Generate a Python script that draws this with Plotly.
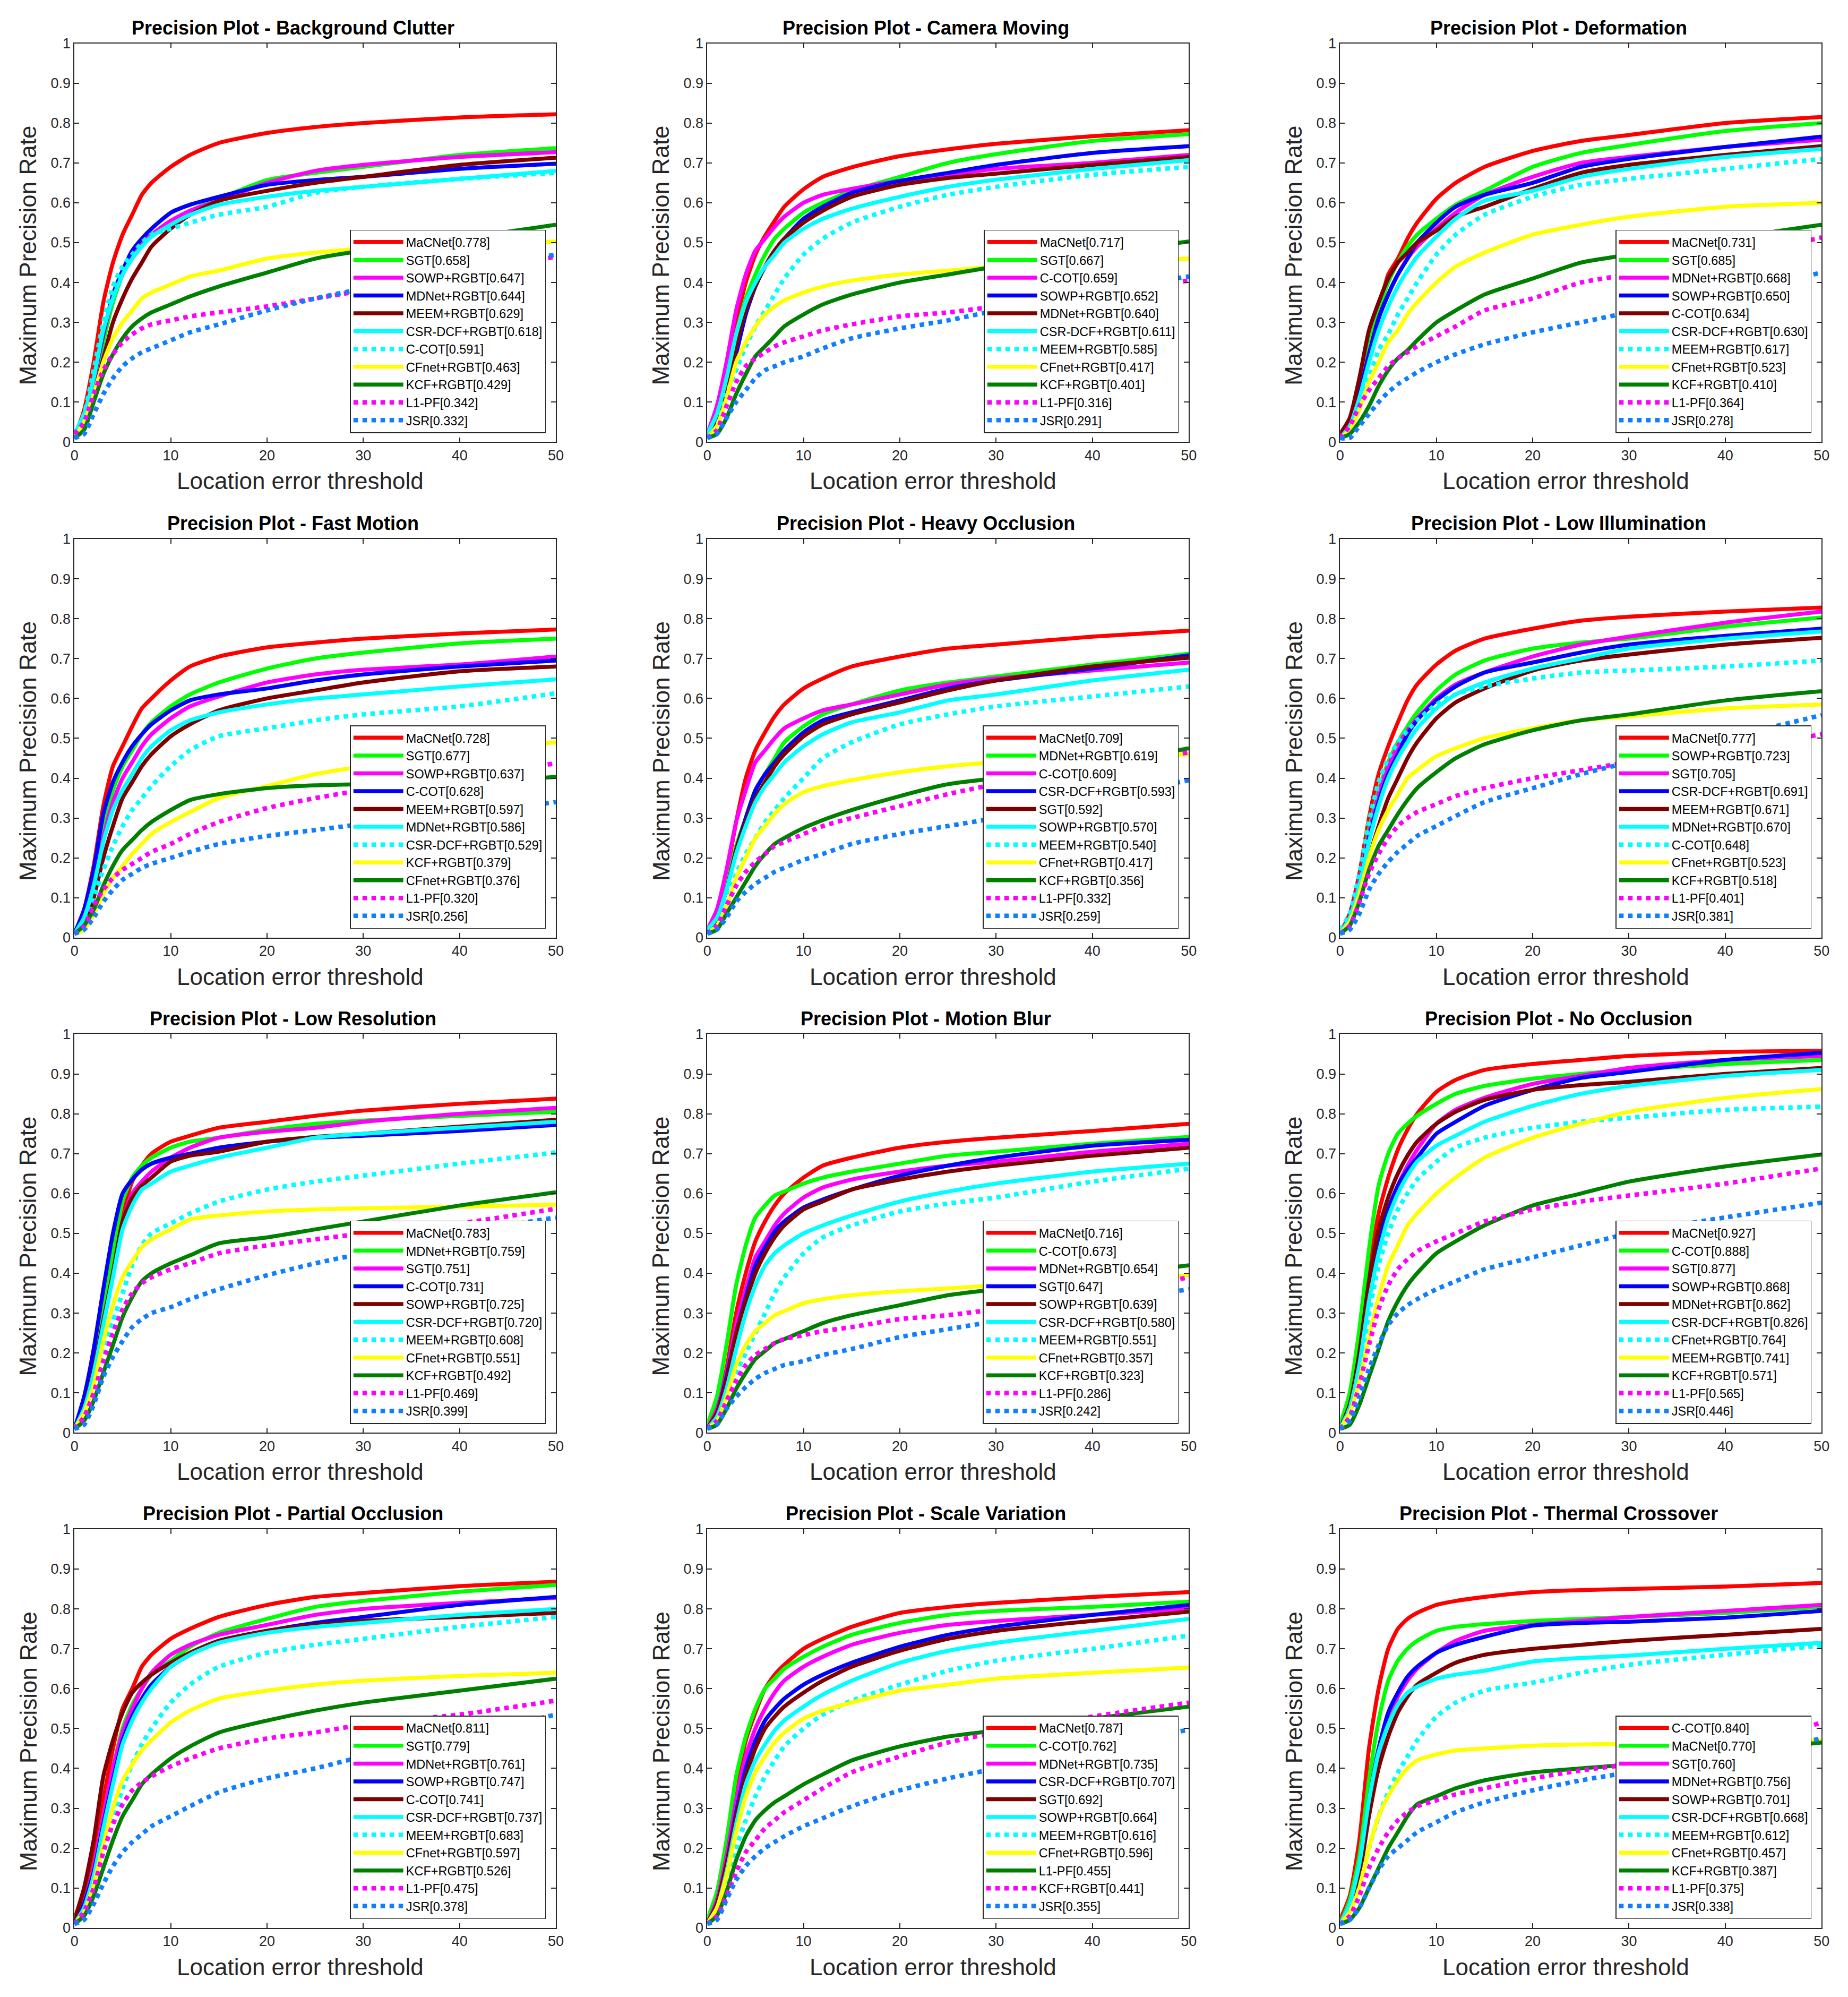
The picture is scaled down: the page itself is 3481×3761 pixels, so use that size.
import plotly.graph_objects as go

# window is 3481x3761; the page body keeps its default 8px margin, so the figure is 16px smaller
PAGE_W, PAGE_H = 3481, 3761
BODY_MARGIN = 8
W, H = PAGE_W - 2 * BODY_MARGIN, PAGE_H - 2 * BODY_MARGIN

# thresholds at which curve values were read
X = [0, 1, 2, 3, 4, 5, 6, 7, 8, 10, 12, 15, 20, 25, 30, 40, 50]

TITLES = ["Background Clutter", "Camera Moving", "Deformation", "Fast Motion",
          "Heavy Occlusion", "Low Illumination", "Low Resolution", "Motion Blur",
          "No Occlusion", "Partial Occlusion", "Scale Variation", "Thermal Crossover"]

# ---------- Background Clutter ----------
bc_names = ["MaCNet[0.778]", "SGT[0.658]", "SOWP+RGBT[0.647]", "MDNet+RGBT[0.644]", "MEEM+RGBT[0.629]",
            "CSR-DCF+RGBT[0.618]", "C-COT[0.591]", "CFnet+RGBT[0.463]", "KCF+RGBT[0.429]", "L1-PF[0.342]", "JSR[0.332]"]
bc_vals = [
    [0.01, 0.08, 0.20, 0.35, 0.45, 0.52, 0.57, 0.62, 0.65, 0.69, 0.72, 0.75, 0.775, 0.79, 0.80, 0.814, 0.822],
    [0.01, 0.05, 0.13, 0.25, 0.35, 0.42, 0.47, 0.50, 0.52, 0.55, 0.58, 0.61, 0.657, 0.675, 0.69, 0.72, 0.737],
    [0.02, 0.06, 0.15, 0.27, 0.36, 0.42, 0.47, 0.50, 0.52, 0.555, 0.58, 0.605, 0.65, 0.68, 0.695, 0.715, 0.727],
    [0.01, 0.06, 0.16, 0.27, 0.37, 0.43, 0.48, 0.51, 0.535, 0.575, 0.595, 0.615, 0.645, 0.657, 0.665, 0.685, 0.698],
    [0.01, 0.05, 0.12, 0.21, 0.30, 0.36, 0.41, 0.45, 0.49, 0.535, 0.57, 0.605, 0.63, 0.65, 0.665, 0.695, 0.713],
    [0.02, 0.07, 0.16, 0.28, 0.36, 0.42, 0.46, 0.49, 0.515, 0.545, 0.57, 0.595, 0.615, 0.63, 0.64, 0.66, 0.68],
    [0.02, 0.07, 0.18, 0.30, 0.39, 0.44, 0.47, 0.50, 0.52, 0.535, 0.55, 0.57, 0.59, 0.625, 0.64, 0.66, 0.675],
    [0.01, 0.05, 0.12, 0.20, 0.26, 0.30, 0.33, 0.36, 0.375, 0.395, 0.415, 0.43, 0.46, 0.475, 0.485, 0.495, 0.503],
    [0.01, 0.03, 0.10, 0.17, 0.22, 0.26, 0.29, 0.31, 0.325, 0.345, 0.365, 0.39, 0.425, 0.46, 0.48, 0.51, 0.545],
    [0.02, 0.05, 0.12, 0.18, 0.22, 0.25, 0.27, 0.285, 0.295, 0.305, 0.315, 0.325, 0.34, 0.36, 0.38, 0.42, 0.465],
    [0.01, 0.02, 0.07, 0.12, 0.16, 0.19, 0.21, 0.225, 0.235, 0.255, 0.275, 0.295, 0.33, 0.36, 0.385, 0.43, 0.47],
]

# ---------- Camera Moving ----------
cm_names = ["MaCNet[0.717]", "SGT[0.667]", "C-COT[0.659]", "SOWP+RGBT[0.652]", "MDNet+RGBT[0.640]",
            "CSR-DCF+RGBT[0.611]", "MEEM+RGBT[0.585]", "CFnet+RGBT[0.417]", "KCF+RGBT[0.401]", "L1-PF[0.316]", "JSR[0.291]"]
cm_vals = [
    [0.01, 0.07, 0.17, 0.30, 0.40, 0.47, 0.517, 0.555, 0.59, 0.634, 0.665, 0.689, 0.717, 0.734, 0.748, 0.767, 0.782],
    [0.01, 0.06, 0.15, 0.27, 0.36, 0.42, 0.47, 0.51, 0.535, 0.575, 0.60, 0.63, 0.665, 0.70, 0.722, 0.755, 0.772],
    [0.02, 0.09, 0.20, 0.33, 0.42, 0.48, 0.51, 0.54, 0.565, 0.60, 0.62, 0.635, 0.655, 0.67, 0.685, 0.70, 0.72],
    [0.01, 0.05, 0.12, 0.22, 0.32, 0.39, 0.44, 0.48, 0.51, 0.56, 0.59, 0.625, 0.655, 0.675, 0.695, 0.725, 0.742],
    [0.01, 0.05, 0.13, 0.24, 0.33, 0.39, 0.44, 0.48, 0.51, 0.55, 0.58, 0.615, 0.645, 0.662, 0.673, 0.695, 0.715],
    [0.02, 0.07, 0.16, 0.27, 0.35, 0.40, 0.44, 0.47, 0.50, 0.535, 0.56, 0.585, 0.615, 0.64, 0.658, 0.685, 0.707],
    [0.01, 0.04, 0.12, 0.18, 0.24, 0.29, 0.33, 0.37, 0.41, 0.47, 0.51, 0.55, 0.59, 0.62, 0.64, 0.67, 0.69],
    [0.01, 0.04, 0.11, 0.20, 0.25, 0.29, 0.32, 0.34, 0.355, 0.375, 0.39, 0.405, 0.42, 0.43, 0.44, 0.45, 0.46],
    [0.01, 0.02, 0.06, 0.12, 0.17, 0.215, 0.24, 0.265, 0.29, 0.32, 0.345, 0.37, 0.40, 0.42, 0.44, 0.47, 0.503],
    [0.01, 0.03, 0.09, 0.15, 0.19, 0.21, 0.225, 0.24, 0.25, 0.265, 0.28, 0.295, 0.315, 0.325, 0.34, 0.37, 0.405],
    [0.01, 0.02, 0.06, 0.10, 0.13, 0.16, 0.18, 0.19, 0.20, 0.215, 0.235, 0.26, 0.285, 0.305, 0.33, 0.38, 0.415],
]

# ---------- Deformation ----------
df_names = ["MaCNet[0.731]", "SGT[0.685]", "MDNet+RGBT[0.668]", "SOWP+RGBT[0.650]", "C-COT[0.634]",
            "CSR-DCF+RGBT[0.630]", "MEEM+RGBT[0.617]", "CFnet+RGBT[0.523]", "KCF+RGBT[0.410]", "L1-PF[0.364]", "JSR[0.278]"]
df_vals = [
    [0.01, 0.05, 0.13, 0.24, 0.33, 0.42, 0.46, 0.51, 0.55, 0.61, 0.65, 0.69, 0.73, 0.755, 0.77, 0.80, 0.815],
    [0.01, 0.05, 0.13, 0.24, 0.33, 0.40, 0.45, 0.49, 0.52, 0.56, 0.595, 0.63, 0.69, 0.725, 0.745, 0.78, 0.80],
    [0.01, 0.05, 0.12, 0.22, 0.31, 0.37, 0.42, 0.46, 0.49, 0.535, 0.575, 0.62, 0.665, 0.70, 0.715, 0.74, 0.758],
    [0.01, 0.05, 0.12, 0.22, 0.31, 0.37, 0.42, 0.46, 0.50, 0.55, 0.59, 0.62, 0.65, 0.69, 0.71, 0.74, 0.766],
    [0.02, 0.06, 0.16, 0.28, 0.35, 0.41, 0.45, 0.475, 0.50, 0.53, 0.565, 0.59, 0.635, 0.675, 0.695, 0.72, 0.742],
    [0.01, 0.04, 0.11, 0.20, 0.28, 0.34, 0.39, 0.43, 0.465, 0.515, 0.56, 0.605, 0.63, 0.665, 0.685, 0.715, 0.735],
    [0.01, 0.03, 0.09, 0.16, 0.23, 0.27, 0.32, 0.36, 0.40, 0.47, 0.52, 0.57, 0.615, 0.645, 0.66, 0.685, 0.71],
    [0.01, 0.03, 0.08, 0.15, 0.20, 0.25, 0.28, 0.32, 0.35, 0.40, 0.44, 0.475, 0.52, 0.545, 0.565, 0.59, 0.60],
    [0.01, 0.02, 0.05, 0.09, 0.14, 0.18, 0.21, 0.23, 0.255, 0.30, 0.33, 0.37, 0.41, 0.45, 0.47, 0.51, 0.545],
    [0.01, 0.04, 0.09, 0.13, 0.16, 0.19, 0.21, 0.225, 0.24, 0.265, 0.29, 0.33, 0.36, 0.40, 0.42, 0.46, 0.513],
    [0.01, 0.01, 0.04, 0.07, 0.10, 0.125, 0.145, 0.16, 0.175, 0.20, 0.22, 0.245, 0.275, 0.30, 0.325, 0.37, 0.425],
]

# ---------- Fast Motion ----------
fm_names = ["MaCNet[0.728]", "SGT[0.677]", "SOWP+RGBT[0.637]", "C-COT[0.628]", "MEEM+RGBT[0.597]",
            "MDNet+RGBT[0.586]", "CSR-DCF+RGBT[0.529]", "KCF+RGBT[0.379]", "CFnet+RGBT[0.376]", "L1-PF[0.320]", "JSR[0.256]"]
fm_vals = [
    [0.01, 0.07, 0.18, 0.33, 0.43, 0.48, 0.53, 0.575, 0.60, 0.645, 0.68, 0.705, 0.728, 0.74, 0.75, 0.763, 0.773],
    [0.01, 0.05, 0.15, 0.28, 0.37, 0.43, 0.47, 0.51, 0.54, 0.58, 0.61, 0.64, 0.675, 0.70, 0.715, 0.738, 0.75],
    [0.01, 0.05, 0.14, 0.25, 0.34, 0.40, 0.44, 0.48, 0.51, 0.55, 0.58, 0.605, 0.64, 0.66, 0.672, 0.685, 0.705],
    [0.01, 0.07, 0.17, 0.31, 0.39, 0.44, 0.48, 0.51, 0.535, 0.57, 0.595, 0.61, 0.625, 0.645, 0.66, 0.68, 0.695],
    [0.01, 0.03, 0.10, 0.20, 0.28, 0.35, 0.39, 0.43, 0.46, 0.505, 0.535, 0.57, 0.60, 0.62, 0.64, 0.668, 0.68],
    [0.01, 0.05, 0.13, 0.24, 0.32, 0.37, 0.41, 0.45, 0.48, 0.52, 0.545, 0.565, 0.585, 0.60, 0.61, 0.63, 0.648],
    [0.01, 0.04, 0.10, 0.17, 0.23, 0.28, 0.32, 0.35, 0.38, 0.43, 0.47, 0.505, 0.525, 0.545, 0.56, 0.58, 0.613],
    [0.01, 0.02, 0.06, 0.11, 0.15, 0.18, 0.21, 0.235, 0.26, 0.29, 0.315, 0.35, 0.38, 0.41, 0.43, 0.465, 0.49],
    [0.01, 0.03, 0.07, 0.13, 0.18, 0.22, 0.245, 0.27, 0.29, 0.32, 0.345, 0.36, 0.375, 0.382, 0.385, 0.39, 0.403],
    [0.01, 0.03, 0.08, 0.12, 0.15, 0.17, 0.185, 0.20, 0.215, 0.235, 0.26, 0.29, 0.325, 0.35, 0.37, 0.405, 0.437],
    [0.01, 0.02, 0.05, 0.09, 0.12, 0.145, 0.16, 0.175, 0.185, 0.20, 0.215, 0.235, 0.255, 0.27, 0.285, 0.31, 0.34],
]

# ---------- Heavy Occlusion ----------
ho_names = ["MaCNet[0.709]", "MDNet+RGBT[0.619]", "C-COT[0.609]", "CSR-DCF+RGBT[0.593]", "SGT[0.592]",
            "SOWP+RGBT[0.570]", "MEEM+RGBT[0.540]", "CFnet+RGBT[0.417]", "KCF+RGBT[0.356]", "L1-PF[0.332]", "JSR[0.259]"]
ho_vals = [
    [0.01, 0.06, 0.16, 0.29, 0.40, 0.47, 0.515, 0.555, 0.585, 0.625, 0.65, 0.68, 0.705, 0.725, 0.735, 0.755, 0.77],
    [0.01, 0.05, 0.13, 0.23, 0.30, 0.37, 0.41, 0.45, 0.49, 0.53, 0.56, 0.585, 0.62, 0.64, 0.655, 0.685, 0.712],
    [0.02, 0.07, 0.17, 0.29, 0.37, 0.44, 0.47, 0.50, 0.525, 0.55, 0.57, 0.585, 0.61, 0.635, 0.65, 0.67, 0.69],
    [0.01, 0.05, 0.12, 0.22, 0.30, 0.37, 0.41, 0.44, 0.47, 0.515, 0.545, 0.565, 0.595, 0.625, 0.645, 0.675, 0.708],
    [0.01, 0.05, 0.12, 0.22, 0.29, 0.35, 0.39, 0.43, 0.46, 0.505, 0.535, 0.56, 0.59, 0.62, 0.645, 0.68, 0.702],
    [0.02, 0.05, 0.12, 0.21, 0.28, 0.34, 0.38, 0.41, 0.44, 0.48, 0.51, 0.54, 0.565, 0.595, 0.61, 0.645, 0.672],
    [0.01, 0.03, 0.09, 0.16, 0.21, 0.25, 0.29, 0.32, 0.35, 0.40, 0.45, 0.49, 0.535, 0.56, 0.58, 0.605, 0.63],
    [0.01, 0.03, 0.08, 0.15, 0.20, 0.25, 0.28, 0.31, 0.335, 0.365, 0.38, 0.395, 0.415, 0.43, 0.44, 0.45, 0.46],
    [0.01, 0.02, 0.06, 0.10, 0.14, 0.18, 0.21, 0.235, 0.25, 0.275, 0.295, 0.32, 0.355, 0.385, 0.40, 0.43, 0.475],
    [0.01, 0.03, 0.08, 0.13, 0.165, 0.19, 0.21, 0.23, 0.24, 0.26, 0.28, 0.30, 0.33, 0.36, 0.385, 0.42, 0.465],
    [0.01, 0.02, 0.05, 0.09, 0.115, 0.135, 0.15, 0.165, 0.175, 0.195, 0.21, 0.235, 0.26, 0.28, 0.30, 0.345, 0.395],
]

# ---------- Low Illumination ----------
li_names = ["MaCNet[0.777]", "SOWP+RGBT[0.723]", "SGT[0.705]", "CSR-DCF+RGBT[0.691]", "MEEM+RGBT[0.671]",
            "MDNet+RGBT[0.670]", "C-COT[0.648]", "CFnet+RGBT[0.523]", "KCF+RGBT[0.518]", "L1-PF[0.401]", "JSR[0.381]"]
li_vals = [
    [0.01, 0.06, 0.16, 0.30, 0.41, 0.48, 0.54, 0.595, 0.635, 0.685, 0.72, 0.75, 0.775, 0.795, 0.805, 0.818, 0.828],
    [0.01, 0.05, 0.14, 0.27, 0.37, 0.44, 0.49, 0.53, 0.565, 0.62, 0.66, 0.695, 0.725, 0.74, 0.75, 0.78, 0.803],
    [0.01, 0.05, 0.14, 0.26, 0.36, 0.43, 0.48, 0.52, 0.55, 0.60, 0.635, 0.665, 0.705, 0.735, 0.755, 0.79, 0.818],
    [0.01, 0.05, 0.13, 0.25, 0.34, 0.41, 0.46, 0.51, 0.545, 0.595, 0.63, 0.665, 0.69, 0.715, 0.735, 0.757, 0.775],
    [0.01, 0.04, 0.11, 0.20, 0.28, 0.35, 0.40, 0.45, 0.49, 0.55, 0.59, 0.625, 0.67, 0.695, 0.71, 0.735, 0.752],
    [0.01, 0.05, 0.13, 0.24, 0.33, 0.40, 0.45, 0.49, 0.525, 0.575, 0.61, 0.64, 0.675, 0.70, 0.725, 0.75, 0.768],
    [0.02, 0.06, 0.16, 0.29, 0.39, 0.45, 0.49, 0.52, 0.545, 0.585, 0.61, 0.63, 0.65, 0.665, 0.67, 0.68, 0.695],
    [0.01, 0.04, 0.11, 0.20, 0.27, 0.32, 0.36, 0.40, 0.42, 0.455, 0.475, 0.50, 0.525, 0.545, 0.555, 0.575, 0.585],
    [0.01, 0.03, 0.09, 0.17, 0.23, 0.27, 0.31, 0.345, 0.375, 0.415, 0.45, 0.485, 0.52, 0.545, 0.56, 0.595, 0.618],
    [0.01, 0.03, 0.09, 0.16, 0.21, 0.25, 0.28, 0.30, 0.315, 0.335, 0.355, 0.375, 0.40, 0.42, 0.44, 0.47, 0.51],
    [0.01, 0.02, 0.06, 0.12, 0.16, 0.19, 0.215, 0.235, 0.255, 0.28, 0.305, 0.34, 0.375, 0.41, 0.44, 0.50, 0.558],
]

# ---------- Low Resolution ----------
lr_names = ["MaCNet[0.783]", "MDNet+RGBT[0.759]", "SGT[0.751]", "C-COT[0.731]", "SOWP+RGBT[0.725]",
            "CSR-DCF+RGBT[0.720]", "MEEM+RGBT[0.608]", "CFnet+RGBT[0.551]", "KCF+RGBT[0.492]", "L1-PF[0.469]", "JSR[0.399]"]
lr_vals = [
    [0.01, 0.07, 0.17, 0.30, 0.42, 0.55, 0.63, 0.67, 0.70, 0.73, 0.745, 0.765, 0.78, 0.795, 0.808, 0.825, 0.838],
    [0.01, 0.07, 0.17, 0.30, 0.45, 0.58, 0.64, 0.67, 0.69, 0.715, 0.73, 0.74, 0.76, 0.775, 0.783, 0.795, 0.805],
    [0.01, 0.06, 0.16, 0.28, 0.40, 0.53, 0.60, 0.63, 0.655, 0.69, 0.715, 0.74, 0.755, 0.765, 0.78, 0.80, 0.815],
    [0.01, 0.09, 0.21, 0.36, 0.50, 0.60, 0.635, 0.66, 0.675, 0.69, 0.70, 0.715, 0.73, 0.74, 0.745, 0.757, 0.772],
    [0.01, 0.06, 0.16, 0.28, 0.40, 0.53, 0.59, 0.62, 0.64, 0.68, 0.695, 0.705, 0.73, 0.742, 0.75, 0.768, 0.785],
    [0.01, 0.06, 0.15, 0.27, 0.39, 0.51, 0.57, 0.61, 0.625, 0.655, 0.67, 0.69, 0.715, 0.74, 0.75, 0.765, 0.78],
    [0.01, 0.04, 0.11, 0.20, 0.28, 0.35, 0.42, 0.47, 0.50, 0.525, 0.55, 0.58, 0.61, 0.63, 0.645, 0.675, 0.703],
    [0.01, 0.05, 0.12, 0.23, 0.32, 0.39, 0.43, 0.465, 0.485, 0.51, 0.535, 0.545, 0.555, 0.56, 0.563, 0.567, 0.572],
    [0.01, 0.03, 0.08, 0.15, 0.22, 0.29, 0.34, 0.38, 0.40, 0.425, 0.445, 0.475, 0.49, 0.51, 0.53, 0.57, 0.603],
    [0.01, 0.04, 0.10, 0.18, 0.25, 0.31, 0.35, 0.375, 0.39, 0.41, 0.425, 0.45, 0.47, 0.485, 0.50, 0.525, 0.562],
    [0.01, 0.02, 0.07, 0.14, 0.19, 0.23, 0.265, 0.285, 0.30, 0.315, 0.335, 0.36, 0.395, 0.425, 0.45, 0.50, 0.54],
]

# ---------- Motion Blur ----------
mb_names = ["MaCNet[0.716]", "C-COT[0.673]", "MDNet+RGBT[0.654]", "SGT[0.647]", "SOWP+RGBT[0.639]",
            "CSR-DCF+RGBT[0.580]", "MEEM+RGBT[0.551]", "CFnet+RGBT[0.357]", "KCF+RGBT[0.323]", "L1-PF[0.286]", "JSR[0.242]"]
mb_vals = [
    [0.01, 0.06, 0.16, 0.30, 0.40, 0.48, 0.53, 0.57, 0.60, 0.64, 0.67, 0.69, 0.715, 0.73, 0.74, 0.757, 0.775],
    [0.02, 0.09, 0.22, 0.37, 0.47, 0.54, 0.57, 0.595, 0.605, 0.625, 0.64, 0.655, 0.675, 0.695, 0.705, 0.725, 0.742],
    [0.01, 0.06, 0.15, 0.27, 0.36, 0.44, 0.48, 0.52, 0.55, 0.59, 0.615, 0.635, 0.655, 0.67, 0.68, 0.705, 0.725],
    [0.01, 0.05, 0.14, 0.25, 0.34, 0.42, 0.465, 0.505, 0.53, 0.565, 0.585, 0.61, 0.645, 0.67, 0.69, 0.72, 0.735],
    [0.01, 0.05, 0.13, 0.25, 0.33, 0.40, 0.45, 0.49, 0.52, 0.56, 0.58, 0.61, 0.635, 0.655, 0.67, 0.695, 0.715],
    [0.01, 0.04, 0.11, 0.21, 0.30, 0.37, 0.42, 0.45, 0.47, 0.50, 0.52, 0.545, 0.58, 0.605, 0.625, 0.655, 0.675],
    [0.01, 0.03, 0.08, 0.15, 0.20, 0.25, 0.30, 0.35, 0.39, 0.45, 0.49, 0.52, 0.555, 0.575, 0.59, 0.63, 0.662],
    [0.01, 0.03, 0.09, 0.17, 0.22, 0.255, 0.275, 0.295, 0.305, 0.325, 0.335, 0.345, 0.355, 0.362, 0.37, 0.38, 0.395],
    [0.01, 0.02, 0.06, 0.11, 0.15, 0.185, 0.205, 0.225, 0.235, 0.255, 0.275, 0.295, 0.32, 0.345, 0.36, 0.39, 0.42],
    [0.01, 0.03, 0.08, 0.13, 0.17, 0.195, 0.21, 0.225, 0.235, 0.245, 0.255, 0.265, 0.285, 0.295, 0.31, 0.345, 0.39],
    [0.01, 0.02, 0.06, 0.09, 0.115, 0.135, 0.15, 0.16, 0.17, 0.18, 0.195, 0.21, 0.24, 0.26, 0.28, 0.32, 0.36],
]

# ---------- No Occlusion ----------
no_names = ["MaCNet[0.927]", "C-COT[0.888]", "SGT[0.877]", "SOWP+RGBT[0.868]", "MDNet+RGBT[0.862]",
            "CSR-DCF+RGBT[0.826]", "CFnet+RGBT[0.764]", "MEEM+RGBT[0.741]", "KCF+RGBT[0.571]", "L1-PF[0.565]", "JSR[0.446]"]
no_vals = [
    [0.01, 0.08, 0.20, 0.40, 0.55, 0.64, 0.71, 0.76, 0.80, 0.855, 0.885, 0.91, 0.925, 0.935, 0.945, 0.955, 0.958],
    [0.02, 0.10, 0.26, 0.46, 0.62, 0.70, 0.75, 0.775, 0.795, 0.825, 0.85, 0.87, 0.888, 0.90, 0.91, 0.925, 0.935],
    [0.01, 0.07, 0.19, 0.35, 0.48, 0.56, 0.62, 0.67, 0.71, 0.775, 0.81, 0.84, 0.875, 0.895, 0.915, 0.935, 0.945],
    [0.01, 0.07, 0.19, 0.35, 0.48, 0.56, 0.62, 0.66, 0.69, 0.75, 0.78, 0.82, 0.86, 0.89, 0.905, 0.935, 0.953],
    [0.01, 0.07, 0.20, 0.38, 0.51, 0.59, 0.65, 0.695, 0.73, 0.775, 0.805, 0.835, 0.86, 0.872, 0.88, 0.90, 0.915],
    [0.01, 0.06, 0.17, 0.33, 0.45, 0.54, 0.60, 0.645, 0.68, 0.72, 0.745, 0.78, 0.82, 0.85, 0.87, 0.895, 0.91],
    [0.01, 0.06, 0.16, 0.30, 0.42, 0.50, 0.56, 0.60, 0.635, 0.68, 0.715, 0.74, 0.765, 0.78, 0.79, 0.81, 0.818],
    [0.01, 0.05, 0.13, 0.24, 0.34, 0.42, 0.47, 0.52, 0.55, 0.60, 0.64, 0.69, 0.74, 0.775, 0.805, 0.84, 0.862],
    [0.01, 0.02, 0.07, 0.14, 0.21, 0.28, 0.33, 0.37, 0.40, 0.45, 0.48, 0.52, 0.57, 0.60, 0.63, 0.668, 0.698],
    [0.01, 0.04, 0.12, 0.22, 0.31, 0.37, 0.41, 0.435, 0.455, 0.48, 0.50, 0.53, 0.56, 0.58, 0.595, 0.625, 0.663],
    [0.01, 0.03, 0.09, 0.16, 0.22, 0.27, 0.30, 0.32, 0.335, 0.36, 0.38, 0.41, 0.44, 0.47, 0.50, 0.54, 0.577],
]

# ---------- Partial Occlusion ----------
po_names = ["MaCNet[0.811]", "SGT[0.779]", "MDNet+RGBT[0.761]", "SOWP+RGBT[0.747]", "C-COT[0.741]",
            "CSR-DCF+RGBT[0.737]", "MEEM+RGBT[0.683]", "CFnet+RGBT[0.597]", "KCF+RGBT[0.526]", "L1-PF[0.475]", "JSR[0.378]"]
po_vals = [
    [0.01, 0.08, 0.18, 0.32, 0.45, 0.55, 0.60, 0.655, 0.685, 0.725, 0.75, 0.78, 0.81, 0.83, 0.84, 0.857, 0.868],
    [0.01, 0.06, 0.15, 0.28, 0.40, 0.50, 0.56, 0.60, 0.635, 0.67, 0.705, 0.74, 0.775, 0.805, 0.82, 0.843, 0.86],
    [0.01, 0.06, 0.15, 0.28, 0.40, 0.49, 0.55, 0.60, 0.64, 0.685, 0.71, 0.735, 0.76, 0.785, 0.80, 0.815, 0.828],
    [0.01, 0.06, 0.14, 0.26, 0.37, 0.47, 0.53, 0.575, 0.61, 0.655, 0.685, 0.72, 0.745, 0.765, 0.78, 0.81, 0.83],
    [0.02, 0.10, 0.22, 0.38, 0.47, 0.54, 0.59, 0.615, 0.635, 0.665, 0.69, 0.72, 0.745, 0.76, 0.77, 0.78, 0.79],
    [0.01, 0.05, 0.13, 0.25, 0.36, 0.46, 0.52, 0.565, 0.60, 0.655, 0.685, 0.715, 0.74, 0.755, 0.765, 0.785, 0.80],
    [0.01, 0.04, 0.10, 0.19, 0.27, 0.35, 0.41, 0.46, 0.50, 0.565, 0.61, 0.655, 0.69, 0.71, 0.725, 0.755, 0.78],
    [0.01, 0.04, 0.11, 0.21, 0.30, 0.37, 0.41, 0.445, 0.47, 0.515, 0.545, 0.575, 0.595, 0.61, 0.62, 0.632, 0.64],
    [0.01, 0.03, 0.08, 0.15, 0.22, 0.28, 0.32, 0.36, 0.385, 0.425, 0.455, 0.49, 0.52, 0.545, 0.565, 0.595, 0.625],
    [0.01, 0.04, 0.10, 0.19, 0.26, 0.31, 0.345, 0.365, 0.38, 0.405, 0.425, 0.45, 0.475, 0.49, 0.51, 0.535, 0.57],
    [0.01, 0.02, 0.06, 0.11, 0.155, 0.19, 0.215, 0.235, 0.255, 0.28, 0.305, 0.34, 0.375, 0.40, 0.43, 0.48, 0.535],
]

# ---------- Scale Variation ----------
sv_names = ["MaCNet[0.787]", "C-COT[0.762]", "MDNet+RGBT[0.735]", "CSR-DCF+RGBT[0.707]", "SGT[0.692]",
            "SOWP+RGBT[0.664]", "MEEM+RGBT[0.616]", "CFnet+RGBT[0.596]", "L1-PF[0.455]", "KCF+RGBT[0.441]", "JSR[0.355]"]
sv_vals = [
    [0.01, 0.08, 0.20, 0.35, 0.47, 0.54, 0.60, 0.635, 0.66, 0.70, 0.725, 0.755, 0.79, 0.805, 0.815, 0.83, 0.842],
    [0.02, 0.09, 0.22, 0.38, 0.48, 0.55, 0.60, 0.625, 0.65, 0.68, 0.705, 0.735, 0.765, 0.785, 0.795, 0.805, 0.818],
    [0.01, 0.07, 0.18, 0.32, 0.43, 0.50, 0.55, 0.59, 0.62, 0.655, 0.68, 0.71, 0.74, 0.76, 0.77, 0.785, 0.80],
    [0.01, 0.06, 0.16, 0.29, 0.40, 0.47, 0.52, 0.55, 0.575, 0.61, 0.635, 0.665, 0.705, 0.735, 0.755, 0.785, 0.81],
    [0.01, 0.06, 0.16, 0.28, 0.38, 0.45, 0.50, 0.53, 0.555, 0.59, 0.62, 0.655, 0.695, 0.725, 0.745, 0.77, 0.793],
    [0.01, 0.05, 0.14, 0.26, 0.36, 0.42, 0.46, 0.495, 0.52, 0.555, 0.585, 0.62, 0.665, 0.695, 0.715, 0.745, 0.775],
    [0.01, 0.04, 0.11, 0.20, 0.27, 0.33, 0.38, 0.42, 0.455, 0.50, 0.535, 0.57, 0.61, 0.645, 0.67, 0.70, 0.733],
    [0.01, 0.05, 0.13, 0.24, 0.33, 0.39, 0.43, 0.465, 0.49, 0.525, 0.545, 0.565, 0.595, 0.61, 0.625, 0.64, 0.653],
    [0.01, 0.03, 0.09, 0.17, 0.23, 0.27, 0.295, 0.315, 0.33, 0.36, 0.385, 0.42, 0.455, 0.48, 0.495, 0.525, 0.555],
    [0.01, 0.03, 0.08, 0.14, 0.19, 0.22, 0.25, 0.27, 0.29, 0.32, 0.35, 0.39, 0.43, 0.465, 0.49, 0.53, 0.565],
    [0.01, 0.02, 0.07, 0.12, 0.155, 0.18, 0.20, 0.215, 0.23, 0.255, 0.275, 0.305, 0.345, 0.375, 0.40, 0.45, 0.497],
]

# ---------- Thermal Crossover ----------
tc_names = ["C-COT[0.840]", "MaCNet[0.770]", "SGT[0.760]", "MDNet+RGBT[0.756]", "SOWP+RGBT[0.701]",
            "CSR-DCF+RGBT[0.668]", "MEEM+RGBT[0.612]", "CFnet+RGBT[0.457]", "KCF+RGBT[0.387]", "L1-PF[0.375]", "JSR[0.338]"]
tc_vals = [
    [0.02, 0.08, 0.22, 0.45, 0.60, 0.70, 0.75, 0.775, 0.79, 0.81, 0.82, 0.83, 0.842, 0.847, 0.85, 0.856, 0.865],
    [0.01, 0.07, 0.18, 0.37, 0.52, 0.62, 0.67, 0.70, 0.72, 0.745, 0.755, 0.762, 0.77, 0.775, 0.78, 0.79, 0.805],
    [0.01, 0.05, 0.14, 0.30, 0.43, 0.52, 0.58, 0.62, 0.65, 0.69, 0.72, 0.745, 0.76, 0.77, 0.78, 0.795, 0.81],
    [0.01, 0.06, 0.15, 0.32, 0.45, 0.54, 0.59, 0.63, 0.655, 0.69, 0.71, 0.73, 0.758, 0.765, 0.768, 0.778, 0.795],
    [0.01, 0.05, 0.13, 0.28, 0.40, 0.48, 0.54, 0.58, 0.61, 0.64, 0.665, 0.685, 0.70, 0.71, 0.72, 0.735, 0.75],
    [0.01, 0.06, 0.16, 0.32, 0.44, 0.51, 0.56, 0.59, 0.605, 0.625, 0.635, 0.645, 0.668, 0.677, 0.683, 0.70, 0.715],
    [0.01, 0.04, 0.10, 0.20, 0.28, 0.34, 0.39, 0.43, 0.47, 0.53, 0.565, 0.595, 0.615, 0.64, 0.66, 0.685, 0.708],
    [0.01, 0.04, 0.10, 0.20, 0.28, 0.33, 0.37, 0.40, 0.42, 0.435, 0.445, 0.45, 0.457, 0.46, 0.462, 0.465, 0.47],
    [0.01, 0.02, 0.05, 0.10, 0.15, 0.20, 0.24, 0.28, 0.31, 0.33, 0.35, 0.37, 0.39, 0.40, 0.41, 0.44, 0.465],
    [0.01, 0.03, 0.08, 0.15, 0.20, 0.24, 0.27, 0.29, 0.305, 0.32, 0.335, 0.35, 0.375, 0.395, 0.41, 0.445, 0.515],
    [0.01, 0.02, 0.05, 0.10, 0.145, 0.18, 0.20, 0.22, 0.24, 0.265, 0.29, 0.315, 0.345, 0.37, 0.39, 0.43, 0.475],
]

NAMES = [bc_names, cm_names, df_names, fm_names, ho_names, li_names,
         lr_names, mb_names, no_names, po_names, sv_names, tc_names]
VALS = [bc_vals, cm_vals, df_vals, fm_vals, ho_vals, li_vals,
        lr_vals, mb_vals, no_vals, po_vals, sv_vals, tc_vals]

# style by rank
RANK_COLORS = ["#FF0000", "#00FF00", "#FF00FF", "#0000FF", "#800000", "#00FFFF",
               "#00FFFF", "#FFFF00", "#008000", "#FF00FF", "#0F7FFF"]
RANK_DASH = ["solid", "solid", "solid", "solid", "solid", "solid",
             "dot", "solid", "solid", "dot", "dot"]

# geometry (target pixels in the page/window)
COL_LEFT = [133, 1333, 2533]
ROW_TOP = [67, 1008, 1948, 2888]
AX_W, AX_H = 913, 757


def px(v):
    return (v - BODY_MARGIN) / W


def py(v):
    return 1 - (v - BODY_MARGIN) / H


FONT = "Liberation Sans, Arial, sans-serif"
AXC = "#262626"

fig = go.Figure()
layout = dict(width=W, height=H, margin=dict(l=0, r=0, t=0, b=0),
              paper_bgcolor="white", plot_bgcolor="white", showlegend=True,
              font=dict(family=FONT, color=AXC))
annotations = []

for i in range(12):
    r, c = divmod(i, 3)
    left, top = COL_LEFT[c], ROW_TOP[r]
    right, bottom = left + AX_W, top + AX_H
    sfx = "" if i == 0 else str(i + 1)
    lg = "legend" + sfx

    common = dict(ticks="inside", ticklen=9, tickwidth=1.5, tickcolor=AXC, showline=True,
                  linecolor=AXC, linewidth=1.5, mirror="ticks", showgrid=False, zeroline=False,
                  tickfont=dict(size=27, color=AXC, family=FONT), fixedrange=True)
    layout["xaxis" + sfx] = dict(domain=[px(left), px(right)], anchor="y" + sfx, range=[0, 50],
                                 tickvals=[0, 10, 20, 30, 40, 50], **common)
    layout["yaxis" + sfx] = dict(domain=[py(bottom), py(top)], anchor="x" + sfx, range=[0, 1],
                                 tick0=0, dtick=0.1, **common)

    for k, (name, vals) in enumerate(zip(NAMES[i], VALS[i])):
        dotted = RANK_DASH[k] == "dot"
        fig.add_trace(go.Scatter(
            x=X, y=vals, mode="lines", name=name,
            line=dict(color=RANK_COLORS[k], width=8.5 if dotted else 7.5,
                      dash=RANK_DASH[k], shape="spline", smoothing=0.6),
            xaxis="x" + sfx, yaxis="y" + sfx, legend=lg, hoverinfo="skip"))

    layout[lg] = dict(
        x=px(right - 19), y=py(bottom - 17),
        xanchor="right", yanchor="bottom", bgcolor="white",
        bordercolor=AXC, borderwidth=1.5, font=dict(size=23.5, color="black", family=FONT),
        itemwidth=94, tracegroupgap=0, traceorder="normal")

    xc = left + AX_W / 2
    annotations.append(dict(
        text="<b>Precision Plot - " + TITLES[i] + "</b>", x=px(xc - 42), y=py(top - 29.5),
        xref="paper", yref="paper", xanchor="center", yanchor="middle", showarrow=False,
        font=dict(size=36, color="black", family=FONT)))
    annotations.append(dict(
        text="Location error threshold", x=px(xc - 28), y=py(bottom + 74),
        xref="paper", yref="paper", xanchor="center", yanchor="middle", showarrow=False,
        font=dict(size=44, color=AXC, family=FONT)))
    annotations.append(dict(
        text="Maximum Precision Rate", x=px(left - 88), y=py((top + bottom) / 2 + 24),
        xref="paper", yref="paper", xanchor="center", yanchor="middle", textangle=-90,
        showarrow=False, font=dict(size=44, color=AXC, family=FONT)))

layout["annotations"] = annotations
fig.update_layout(**layout)
fig.write_html("out.html", config={"displayModeBar": False})
